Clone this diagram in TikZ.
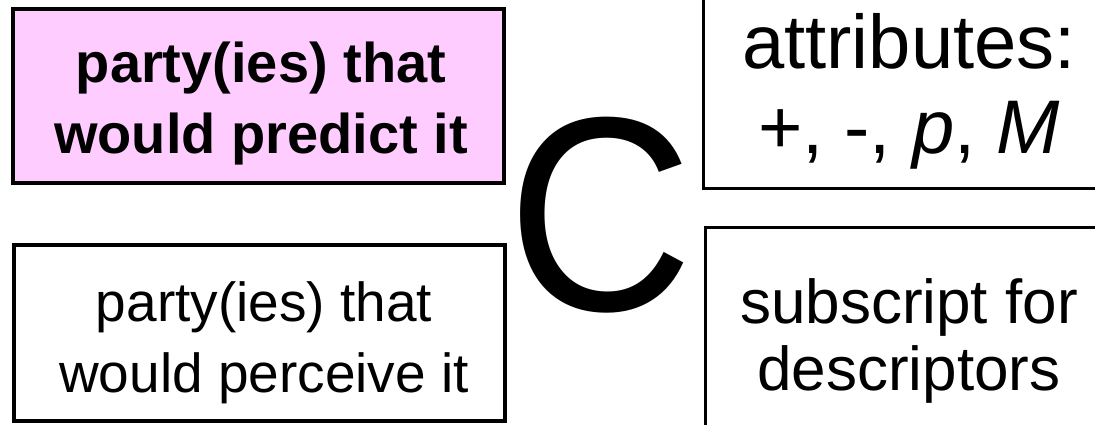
\documentclass[tikz,border=0pt]{standalone}
\usepackage{fontspec}
\setmainfont{Liberation Sans}
\usepackage{tikz}
\usepackage{xcolor}
\definecolor{predictpink}{RGB}{255,204,255}

\begin{document}
\begin{tikzpicture}[x=1pt,y=1pt,
  every node/.style={inner sep=0pt,align=center},
  leftbox/.style={draw,line width=4pt,minimum width=491pt,minimum height=174pt},
  rightbox/.style={draw,line width=3pt,minimum width=420pt,minimum height=230pt}]
\clip (0,0) rectangle (1095,-424);
% boxes
\node[leftbox,fill=predictpink] (predict) at (258.5,-96) {};
\node[leftbox,minimum height=176pt] (perceive) at (259,-333) {};
\node[rightbox,anchor=south west] (attr) at (701.5,-189.5) {};
\node[rightbox,anchor=north west] (subs) at (703.5,-225.7) {};
% texts
\node[font=\bfseries\fontsize{56}{71}\selectfont] (predictText) at (261,-104)
  {party(ies) that\\would predict it};
\node[font=\fontsize{55}{71}\selectfont] (perceiveText) at (264,-343)
  {party(ies) that\\would perceive it};
\node[font=\fontsize{76}{85}\selectfont] (attrText) at (909,-91)
  {attributes:\\+, -, \textit{p}, \textit{M}};
\node[font=\fontsize{62}{67}\selectfont] (subsText) at (909,-340.5)
  {subscript for\\descriptors};
\node[font=\fontsize{277}{277}\selectfont] (bigC) at (601,-215.5) {\scalebox{0.93}[1]{C}};
\end{tikzpicture}
\end{document}
